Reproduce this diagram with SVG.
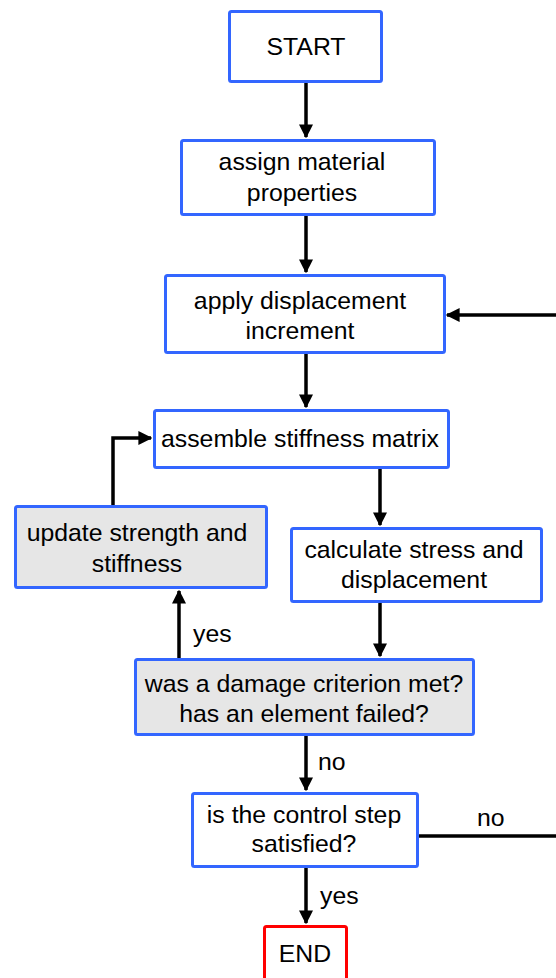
<svg xmlns="http://www.w3.org/2000/svg" width="556" height="978" viewBox="0 0 556 978">
<defs>
<style>
.box{fill:#ffffff;stroke:#3366ff;stroke-width:3}
.gray{fill:#e6e6e6;stroke:#3366ff;stroke-width:3}
.red{fill:#ffffff;stroke:#ff0000;stroke-width:3}
text{font-family:"Liberation Sans",Arial,sans-serif;font-size:24.8px;fill:#000;text-anchor:middle}
.lbl{text-anchor:start}
.c{fill:none;stroke:#000;stroke-width:3.5}
</style>
<marker id="ah" viewBox="0 0 10 10" refX="9" refY="5" markerWidth="4" markerHeight="4" markerUnits="strokeWidth" orient="auto">
<path d="M0,0 L10,5 L0,10 z" fill="#000"/>
</marker>
</defs>
<rect width="556" height="978" fill="#ffffff"/>
<g id="connectors">
<line class="c" x1="306" y1="83" x2="306" y2="137" marker-end="url(#ah)"/>
<line class="c" x1="306" y1="216" x2="306" y2="272" marker-end="url(#ah)"/>
<line class="c" x1="556" y1="315" x2="447" y2="315" marker-end="url(#ah)"/>
<line class="c" x1="306" y1="354" x2="306" y2="407" marker-end="url(#ah)"/>
<line class="c" x1="380" y1="469" x2="380" y2="525" marker-end="url(#ah)"/>
<line class="c" x1="380" y1="603" x2="380" y2="656" marker-end="url(#ah)"/>
<line class="c" x1="179" y1="658" x2="179" y2="591" marker-end="url(#ah)"/>
<polyline class="c" points="113,506 113,438 151,438" marker-end="url(#ah)"/>
<line class="c" x1="306" y1="736" x2="306" y2="790" marker-end="url(#ah)"/>
<line class="c" x1="419" y1="836" x2="556" y2="836"/>
<line class="c" x1="306" y1="868" x2="306" y2="923" marker-end="url(#ah)"/>
<text class="lbl" x="193" y="642">yes</text>
<text class="lbl" x="318" y="770">no</text>
<text class="lbl" x="477" y="826">no</text>
<text class="lbl" x="320" y="904">yes</text>
</g>
<g id="start"><rect class="box" x="229.5" y="11.5" width="152" height="70" rx="2"/><text x="306" y="55">START</text></g>
<g id="assign"><rect class="box" x="181.5" y="140.5" width="253" height="74" rx="2"/><text x="302" y="170">assign material</text><text x="302" y="201">properties</text></g>
<g id="apply"><rect class="box" x="165.5" y="275.5" width="279" height="77" rx="2"/><text x="300" y="309">apply displacement</text><text x="300" y="339">increment</text></g>
<g id="assemble"><rect class="box" x="154.5" y="410.5" width="294" height="57" rx="2"/><text x="300" y="447">assemble stiffness matrix</text></g>
<g id="update"><rect class="gray" x="15.5" y="506.5" width="251" height="81" rx="2"/><text x="137" y="541">update strength and</text><text x="137" y="572">stiffness</text></g>
<g id="calculate"><rect class="box" x="291.5" y="528.5" width="250" height="73" rx="2"/><text x="414" y="558">calculate stress and</text><text x="414" y="588">displacement</text></g>
<g id="damage"><rect class="gray" x="135.5" y="659.5" width="338" height="75" rx="2"/><text x="304" y="692">was a damage criterion met?</text><text x="304" y="722">has an element failed?</text></g>
<g id="control"><rect class="box" x="192.5" y="793.5" width="225" height="73" rx="2"/><text x="304" y="823">is the control step</text><text x="304" y="852">satisfied?</text></g>
<g id="end"><rect class="red" x="264.5" y="926.5" width="82" height="60" rx="2"/><text x="305" y="962">END</text></g>
</svg>
